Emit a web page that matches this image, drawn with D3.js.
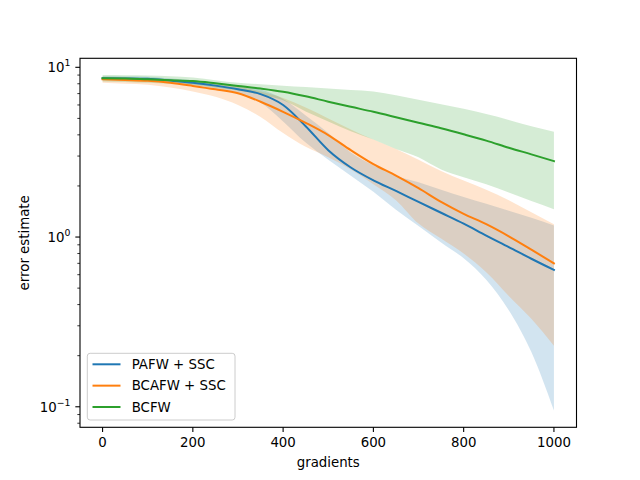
<!DOCTYPE html>
<html>
<head>
<meta charset="utf-8">
<script src="https://cdn.jsdelivr.net/npm/d3@7"></script>
<style>
  body { margin: 0; background: #fff; }
  svg { font-family: "DejaVu Sans", sans-serif; }
</style>
</head>
<body>
<svg id="chart" width="640" height="480"></svg>
<script>
// ---- data ----
const gradients = [0,50,100,150,200,250,300,350,400,450,500,550,600,650,700,750,800,850,900,950,1000];

const pafwMean  = [8.62,8.6,8.55,8.35,8.12,7.8,7.42,6.95,6.0,4.5,3.25,2.57,2.16,1.87,1.61,1.39,1.20,1.02,0.873,0.745,0.64];
const pafwUpper = [8.85,8.83,8.8,8.6,8.4,8.1,7.8,7.4,6.5,5.2,4.1,3.15,2.65,2.3,2.1,1.9,1.72,1.57,1.43,1.3,1.17];
const pafwLower = [8.4,8.37,8.3,8.1,7.85,7.5,7.0,6.2,4.8,3.6,2.85,2.3,1.85,1.45,1.16,0.93,0.75,0.56,0.37,0.21,0.095];

const bcafwMean  = [8.5,8.42,8.32,8.1,7.77,7.42,7.03,6.27,5.47,4.71,3.99,3.25,2.69,2.30,1.94,1.61,1.37,1.19,1.01,0.843,0.70];
const bcafwUpper = [8.8,8.72,8.6,8.45,8.2,7.95,7.7,7.2,6.6,5.8,5.0,4.3,3.75,3.3,2.85,2.45,2.15,1.9,1.65,1.4,1.19];
const bcafwLower = [8.1,8.0,7.9,7.6,7.2,6.7,6.0,5.1,4.1,3.4,2.95,2.5,2.05,1.65,1.2,0.98,0.8,0.62,0.45,0.33,0.229];

const bcfwMean  = [8.62,8.6,8.5,8.4,8.3,8.05,7.77,7.5,7.18,6.75,6.27,5.85,5.47,5.08,4.71,4.37,4.03,3.7,3.36,3.07,2.80];
const bcfwUpper = [9.0,8.98,8.95,8.85,8.7,8.4,8.1,7.95,7.8,7.65,7.5,7.35,7.2,6.85,6.45,6.05,5.7,5.3,4.9,4.5,4.17];
const bcfwLower = [8.25,8.2,8.1,8.0,7.9,7.6,7.3,6.9,6.4,5.5,4.8,4.2,3.75,3.3,2.95,2.5,2.25,2.05,1.83,1.63,1.46];

const seriesNames  = ["PAFW + SSC", "BCAFW + SSC", "BCFW"];
const seriesColors = ["#1f77b4", "#ff7f0e", "#2ca02c"];
const xTicks = [0,200,400,600,800,1000];
const yMajor = [0.1, 1, 10];
const yExp = ["\u22121", "0", "1"];
const xLabel = "gradients";
const yLabel = "error estimate";

// ---- layout ----
const svg = d3.select("#chart");
const L = 80, R = 576.5, T = 58.3, B = 427.3;
const x = d3.scaleLinear().domain([-50, 1050]).range([L, R]);
const y = d3.scaleLog().domain([0.0757, 11.3]).range([B, T]);

const series = [
  {name: seriesNames[0], color: seriesColors[0], mean: pafwMean, up: pafwUpper, lo: pafwLower},
  {name: seriesNames[1], color: seriesColors[1], mean: bcafwMean, up: bcafwUpper, lo: bcafwLower},
  {name: seriesNames[2], color: seriesColors[2], mean: bcfwMean, up: bcfwUpper, lo: bcfwLower}
];

svg.append("defs").append("clipPath").attr("id","clip")
  .append("rect").attr("x", L).attr("y", T).attr("width", R-L).attr("height", B-T);

const g = svg.append("g").attr("clip-path", "url(#clip)");
const curve = d3.curveMonotoneX;

// bands
series.forEach(s => {
  const area = d3.area().curve(curve)
    .x((d,i) => x(gradients[i]))
    .y0((d,i) => y(s.lo[i]))
    .y1((d,i) => y(s.up[i]));
  g.append("path").datum(s.mean).attr("d", area)
    .attr("fill", s.color).attr("fill-opacity", 0.2).attr("stroke", "none");
});
// lines
series.forEach(s => {
  const line = d3.line().curve(curve).x((d,i) => x(gradients[i])).y(d => y(d));
  g.append("path").datum(s.mean).attr("d", line)
    .attr("fill", "none").attr("stroke", s.color).attr("stroke-width", 2)
    .attr("stroke-linejoin", "round").attr("stroke-linecap", "square");
});

// axes
const fs = 13.33;
const xAxis = svg.append("g").attr("transform", `translate(0,${B})`);
xTicks.forEach(t => {
  xAxis.append("line").attr("x1", x(t)).attr("x2", x(t)).attr("y1", 0).attr("y2", 4.67)
    .attr("stroke", "#000").attr("stroke-width", 1.1);
  xAxis.append("text").attr("x", x(t)).attr("y", 19.5).attr("text-anchor", "middle")
    .attr("font-size", fs).attr("fill", "#000").text(t);
});

const yAxis = svg.append("g").attr("transform", `translate(${L},0)`);
// minor ticks
const minor = [];
[0.01, 0.1, 1, 10].forEach(dec => { for (let k = 2; k <= 9; k++) minor.push(dec*k); });
minor.filter(v => v >= y.domain()[0] && v <= y.domain()[1]).forEach(v => {
  yAxis.append("line").attr("x1", -2.67).attr("x2", 0).attr("y1", y(v)).attr("y2", y(v))
    .attr("stroke", "#000").attr("stroke-width", 0.8);
});
yMajor.forEach((v, i) => {
  yAxis.append("line").attr("x1", -4.67).attr("x2", 0).attr("y1", y(v)).attr("y2", y(v))
    .attr("stroke", "#000").attr("stroke-width", 1.1);
  const t = yAxis.append("text").attr("x", -9.5).attr("y", y(v) + 5)
    .attr("text-anchor", "end").attr("font-size", fs).attr("fill", "#000");
  t.append("tspan").text("10");
  t.append("tspan").attr("font-size", fs*0.7).attr("dy", -6).text(yExp[i]);
});

// frame
svg.append("rect").attr("x", L).attr("y", T).attr("width", R-L).attr("height", B-T)
  .attr("fill", "none").attr("stroke", "#000").attr("stroke-width", 1.1);

// labels
svg.append("text").attr("x", (L+R)/2).attr("y", 467).attr("text-anchor", "middle")
  .attr("font-size", fs).attr("fill", "#000").text(xLabel);
svg.append("text").attr("transform", `translate(28.5,${(T+B)/2}) rotate(-90)`)
  .attr("text-anchor", "middle").attr("font-size", fs).attr("fill", "#000").text(yLabel);

// legend
const lg = svg.append("g");
lg.append("rect").attr("x", 87.3).attr("y", 353.3).attr("width", 147.7).attr("height", 66.7)
  .attr("rx", 2.8).attr("fill", "#fff").attr("fill-opacity", 0.8)
  .attr("stroke", "#cccccc").attr("stroke-width", 1);
series.forEach((s, i) => {
  const cy = 364.3 + i*21.35;
  lg.append("line").attr("x1", 92.5).attr("x2", 120.5).attr("y1", cy).attr("y2", cy)
    .attr("stroke", s.color).attr("stroke-width", 2);
  lg.append("text").attr("x", 131.7).attr("y", cy + 4.8).attr("font-size", fs)
    .attr("fill", "#000").text(s.name);
});
</script>
</body>
</html>
